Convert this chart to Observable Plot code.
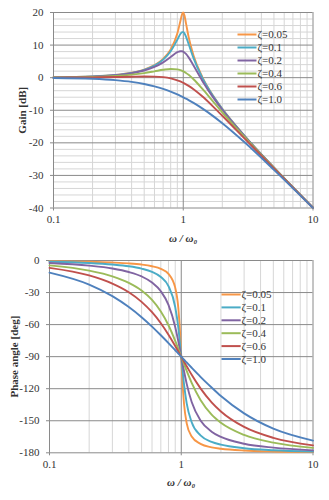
<!DOCTYPE html>
<html>
<head>
<meta charset="utf-8">
<script src="https://cdn.jsdelivr.net/npm/d3@7"></script>
<script src="https://cdn.jsdelivr.net/npm/@observablehq/plot@0.6"></script>
<style>
  html, body { margin: 0; padding: 0; background: #fff; }
  #wrap { position: relative; width: 329px; height: 500px; }
  #wrap > svg { display: block; }
  .legend { position: absolute; left: 0; top: 0; pointer-events: none; }
</style>
</head>
<body>
<div id="wrap"></div>
<script>
// ---- data ----
const omega = [0.1,0.2,0.3,0.4,0.5,0.6,0.7,0.8,0.9,0.95,0.98,1,1.02,1.05,1.1,1.2,1.4,1.7,2,3,5,10];
const seriesLabels = ["ζ=0.05","ζ=0.1","ζ=0.2","ζ=0.4","ζ=0.6","ζ=1.0"];
const seriesColors = ["#F79646","#4BACC6","#8064A2","#9BBB59","#C0504D","#4F81BD"];

const gain005 = [0.09,0.35,0.81,1.51,2.48,3.84,5.77,8.66,13.55,17.32,19.52,20.0,19.19,16.67,12.50,6.82,0.26,-5.56,-9.56,-18.07,-27.61,-39.91];
const gain01  = [0.09,0.35,0.80,1.48,2.42,3.73,5.53,8.09,11.64,13.41,13.98,13.98,13.64,12.63,10.34,6.00,0.00,-5.67,-9.62,-18.09,-27.61,-39.91];
const gain02  = [0.08,0.33,0.75,1.36,2.20,3.30,4.70,6.34,7.81,8.13,8.09,7.96,7.74,7.28,6.24,3.73,-0.92,-6.06,-9.84,-18.16,-27.63,-39.92];
const gain04  = [0.06,0.24,0.53,0.93,1.41,1.94,2.41,2.68,2.56,2.31,2.10,1.94,1.76,1.45,0.87,-0.47,-3.38,-7.34,-10.63,-18.44,-27.72,-39.94];
const gain06  = [0.02,0.09,0.19,0.29,0.35,0.32,0.15,-0.22,-0.80,-1.17,-1.41,-1.58,-1.76,-2.04,-2.52,-3.55,-5.73,-8.88,-11.69,-18.86,-27.87,-39.98];
const gain10  = [-0.09,-0.34,-0.75,-1.29,-1.94,-2.67,-3.46,-4.30,-5.15,-5.59,-5.85,-6.02,-6.19,-6.45,-6.89,-7.75,-9.43,-11.80,-13.98,-20.0,-28.30,-40.0];

const phase005 = [-0.6,-1.2,-1.9,-2.7,-3.8,-5.4,-7.8,-12.5,-25.4,-44.3,-68.0,-90,-111.6,-134.3,-152.4,-164.7,-171.7,-174.9,-176.2,-177.9,-178.8,-179.4];
const phase01  = [-1.2,-2.4,-3.8,-5.4,-7.6,-10.6,-15.4,-24.0,-43.5,-62.8,-78.6,-90,-101.2,-116.0,-133.7,-151.4,-163.7,-169.8,-172.4,-175.7,-177.6,-178.8];
const phase02  = [-2.3,-4.8,-7.5,-10.8,-14.9,-20.6,-28.8,-41.6,-62.2,-75.6,-84.2,-90,-95.7,-103.7,-115.5,-132.5,-149.7,-160.2,-165.1,-171.5,-175.2,-177.7];
const phase04  = [-4.6,-9.5,-14.8,-20.9,-28.1,-36.9,-47.7,-60.6,-75.2,-82.7,-87.1,-90,-92.8,-97.0,-103.4,-114.6,-130.6,-144.3,-151.9,-163.3,-170.5,-175.4];
const phase06  = [-6.9,-14.0,-21.6,-29.7,-38.7,-48.4,-58.7,-69.4,-80.0,-85.1,-88.1,-90,-91.9,-94.7,-99.0,-107.0,-119.7,-132.8,-141.3,-155.8,-166.0,-173.1];
const phase10  = [-11.4,-22.6,-33.4,-43.6,-53.1,-61.9,-70.0,-77.3,-84.0,-87.1,-88.8,-90,-91.1,-92.9,-95.5,-100.4,-108.9,-118.9,-126.9,-143.1,-157.4,-168.6];

const xTicks = [0.1, 1, 10];
const xMinor = [0.2,0.3,0.4,0.5,0.6,0.7,0.8,0.9,2,3,4,5,6,7,8,9];
const gainTicks = [-40,-30,-20,-10,0,10,20];
const gainMinor = [-38,-36,-34,-32,-28,-26,-24,-22,-18,-16,-14,-12,-8,-6,-4,-2,2,4,6,8,12,14,16,18];
const phaseTicks = [-180,-150,-120,-90,-60,-30,0];
const xLabel = "ω / ω₀";
const gainLabel = "Gain [dB]";
const phaseLabel = "Phase angle [deg]";

// ---- build tables ----
const gains = [gain005, gain01, gain02, gain04, gain06, gain10];
const phases = [phase005, phase01, phase02, phase04, phase06, phase10];
const gainData = gains.flatMap((arr, i) => omega.map((w, j) => ({w, v: arr[j], s: seriesLabels[i]})));
const phaseData = phases.flatMap((arr, i) => omega.map((w, j) => ({w, v: arr[j], s: seriesLabels[i]})));

const FONT = "'Liberation Serif', 'Times New Roman', serif";
const TXT = "#333";
const MAJOR = "#8a8a8a";
const MINOR = "#d6d6d6";

function panel({data, yDomain, yTicks, yMinor, yLabel, ml, mt, mb, ylabDx, xlabDy}) {
  return Plot.plot({
    width: 329, height: 250,
    marginLeft: ml, marginRight: 16.5, marginTop: mt, marginBottom: mb,
    style: {fontFamily: FONT, fontSize: "11px", color: TXT, background: "#fff", overflow: "visible"},
    x: {type: "log", domain: [0.1, 10]},
    y: {domain: yDomain},
    color: {domain: seriesLabels, range: seriesColors},
    marks: [
      Plot.ruleX(xMinor, {stroke: MINOR, strokeWidth: 1}),
      yMinor ? Plot.ruleY(yMinor, {stroke: MINOR, strokeWidth: 1}) : null,
      Plot.ruleY(yTicks, {stroke: MAJOR, strokeWidth: 1}),
      Plot.ruleX(xTicks, {stroke: MAJOR, strokeWidth: 1}),
      Plot.line(data, {x: "w", y: "v", z: "s", stroke: "s", curve: "monotone-x", strokeWidth: 1.9}),
      Plot.axisX({ticks: xTicks, tickFormat: d => String(d), tickSize: 3, tickPadding: 4, label: null, stroke: MAJOR, fill: TXT, fontFamily: FONT, fontSize: 11}),
      Plot.axisY({ticks: yTicks, tickFormat: d => String(d), tickSize: 3, tickPadding: 7, label: null, stroke: MAJOR, fill: TXT, fontFamily: FONT, fontSize: 11}),
      Plot.text([xLabel], {text: d => d, frameAnchor: "bottom", lineAnchor: "middle", textAnchor: "middle", dy: xlabDy, fontFamily: FONT, fontWeight: "bold", fontStyle: "italic", fontSize: 11, fill: TXT}),
      Plot.text([yLabel], {text: d => d, frameAnchor: "left", lineAnchor: "middle", textAnchor: "middle", dx: ylabDx, rotate: -90, fontFamily: FONT, fontWeight: "bold", fontSize: 11, fill: TXT})
    ]
  });
}

const wrap = document.getElementById("wrap");
wrap.appendChild(panel({data: gainData, yDomain: [-40, 20], yTicks: gainTicks, yMinor: gainMinor, yLabel: gainLabel, ml: 53, mt: 12, mb: 42.5, ylabDx: -31, xlabDy: 30.5}));
wrap.appendChild(panel({data: phaseData, yDomain: [-180, 0], yTicks: phaseTicks, yMinor: null, yLabel: phaseLabel, ml: 49, mt: 10, mb: 47.7, ylabDx: -35, xlabDy: 29.5}));

// ---- legends (overlay) ----
const leg = d3.select(wrap).append("svg").attr("class", "legend").attr("width", 329).attr("height", 500)
  .style("font-family", FONT).style("font-size", "11px");
function legend(x1, x2, tx, y0, step) {
  seriesLabels.forEach((lab, i) => {
    const y = y0 + step * i;
    leg.append("line").attr("x1", x1).attr("x2", x2).attr("y1", y).attr("y2", y)
      .attr("stroke", seriesColors[i]).attr("stroke-width", 2);
    leg.append("text").attr("x", tx).attr("y", y).attr("dy", "0.35em").attr("fill", TXT).text(lab);
  });
}
legend(237.5, 256.5, 257.5, 34.5, 13);
legend(221.5, 240.7, 241.5, 294.5, 12.9);
</script>
</body>
</html>
